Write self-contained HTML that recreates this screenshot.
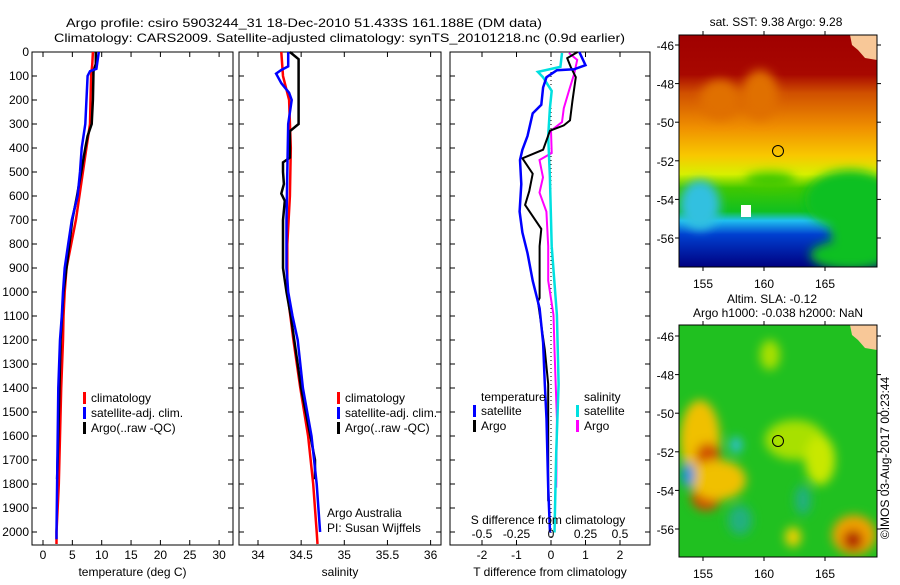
<!DOCTYPE html>
<html><head><meta charset="utf-8"><style>
body{margin:0;background:#fff;}
svg text{font-family:"Liberation Sans",sans-serif;font-size:12px;fill:#000;}
</style></head><body>
<svg id="chart" width="900" height="580" viewBox="0 0 900 580" xmlns="http://www.w3.org/2000/svg">
<defs>
<filter id="blur4" x="-20%" y="-20%" width="140%" height="140%"><feGaussianBlur stdDeviation="5"/></filter>
<clipPath id="clipMap1"><rect x="679" y="35" width="198" height="232"/></clipPath>
<clipPath id="clipMap2"><rect x="679" y="325" width="198" height="232"/></clipPath>
<linearGradient id="sstGrad" x1="0" y1="0" x2="0" y2="1">
<stop offset="0" stop-color="#a00000"/><stop offset="0.17" stop-color="#a80800"/>
<stop offset="0.25" stop-color="#d05000"/><stop offset="0.4" stop-color="#f09000"/>
<stop offset="0.52" stop-color="#f8c800"/><stop offset="0.6" stop-color="#d8f000"/>
<stop offset="0.66" stop-color="#40c800"/><stop offset="0.76" stop-color="#10c020"/>
<stop offset="0.8" stop-color="#20c0f0"/><stop offset="0.86" stop-color="#0040d0"/>
<stop offset="1" stop-color="#000080"/>
</linearGradient>
</defs>
<text x="66" y="27" textLength="476" lengthAdjust="spacingAndGlyphs" font-size="14">Argo profile: csiro 5903244_31 18-Dec-2010 51.433S 161.188E (DM data)</text>
<text x="54" y="42" textLength="571" lengthAdjust="spacingAndGlyphs" font-size="14">Climatology: CARS2009. Satellite-adjusted climatology: synTS_20101218.nc (0.9d earlier)</text>
<g id="plots"></g>
<!-- Map 1 SST -->
<g>
<g clip-path="url(#clipMap1)">
<rect x="679" y="35" width="198" height="232" fill="url(#sstGrad)"/>
<g filter="url(#blur4)">
<ellipse cx="850" cy="200" rx="45" ry="30" fill="#10c020"/>
<ellipse cx="860" cy="230" rx="30" ry="25" fill="#10c020"/>
<ellipse cx="700" cy="205" rx="20" ry="25" fill="#30c0e0"/>
<ellipse cx="760" cy="95" rx="18" ry="25" fill="#e07000"/>
<ellipse cx="720" cy="100" rx="20" ry="20" fill="#e07000"/>
<ellipse cx="770" cy="180" rx="25" ry="8" fill="#40c800"/>
<ellipse cx="850" cy="255" rx="40" ry="15" fill="#10c020"/>
</g>
<rect x="741" y="205" width="10" height="12" fill="#fff"/>
<path d="M850,35 L877,35 L877,60 L865,58 L858,50 L852,45 Z" fill="#f8c898"/>
</g>
<rect x="679" y="35" width="198" height="232" fill="none" stroke="#000" stroke-width="1"/>
<circle cx="778" cy="151" r="5.5" fill="none" stroke="#000"/>
</g>
<text x="776" y="26" text-anchor="middle">sat. SST: 9.38 Argo: 9.28</text>
<!-- Map 2 SLA -->
<g>
<g clip-path="url(#clipMap2)">
<rect x="679" y="325" width="198" height="232" fill="#20c020"/>
<g filter="url(#blur4)">
<ellipse cx="700" cy="440" rx="20" ry="40" fill="#f0c000"/>
<ellipse cx="708" cy="455" rx="12" ry="12" fill="#d05000"/>
<ellipse cx="706" cy="497" rx="15" ry="14" fill="#d05000"/>
<ellipse cx="718" cy="480" rx="28" ry="20" fill="#f0c000"/>
<ellipse cx="688" cy="475" rx="7" ry="12" fill="#2090e0"/>
<ellipse cx="854" cy="535" rx="22" ry="20" fill="#f0a000"/>
<ellipse cx="853" cy="540" rx="10" ry="10" fill="#b02000"/>
<ellipse cx="736" cy="445" rx="6" ry="8" fill="#30c0e0"/>
<ellipse cx="795" cy="440" rx="30" ry="20" fill="#a8e000"/>
<ellipse cx="820" cy="460" rx="15" ry="25" fill="#c8e800"/>
<ellipse cx="740" cy="520" rx="12" ry="15" fill="#20b080"/>
<ellipse cx="793" cy="537" rx="8" ry="10" fill="#f0d000"/>
<ellipse cx="803" cy="500" rx="8" ry="15" fill="#20b080"/>
<ellipse cx="770" cy="355" rx="10" ry="15" fill="#a8e000"/>
</g>
<path d="M850,325 L877,325 L877,350 L865,348 L858,340 L852,335 Z" fill="#f8c898"/>
</g>
<rect x="679" y="325" width="198" height="232" fill="none" stroke="#000" stroke-width="1"/>
<circle cx="778" cy="441" r="5.5" fill="none" stroke="#000"/>
</g>
<text x="772" y="303" text-anchor="middle">Altim. SLA: -0.12</text>
<text x="778" y="317" text-anchor="middle">Argo h1000: -0.038 h2000: NaN</text>
<text transform="translate(889,458) rotate(-90)" text-anchor="middle">©IMOS 03-Aug-2017 00:23:44</text>
</svg>
<script>
// ---- data ----
const depthTicks = [0,100,200,300,400,500,600,700,800,900,1000,1100,1200,1300,1400,1500,1600,1700,1800,1900,2000];
const tempTicks = [0,5,10,15,20,25,30];
const salTicks = [34,34.5,35,35.5,36];
const tdiffTicks = [-2,-1,0,1,2];
const sdiffTicks = [-0.5,-0.25,0,0.25,0.5];
const sdiffTickLabels = ["-0.5","-0.25","0","0.25","0.5"];

const tClimDepth = [0,50,100,200,300,400,500,600,700,800,900,1000,1100,1200,1400,1600,1800,2000,2050];
const tClim = [8.5,8.4,8.2,8.1,8.0,7.4,6.8,6.2,5.6,4.8,4.0,3.7,3.5,3.4,3.1,2.9,2.7,2.3,2.3];
const tSatDepth = [0,70,80,100,300,400,500,600,700,800,900,1000,1100,1200,1400,1600,1800,2000,2030];
const tSat = [9.5,9.1,8.0,7.6,7.2,6.6,6.3,5.9,4.9,4.3,3.7,3.4,3.2,2.9,2.6,2.5,2.4,2.3,2.3];
const tArgoDepth = [0,50,80,200,300,350,400,500,600,700,800,900,1000,1200,1400,1600,1780];
const tArgo = [9.0,9.0,8.6,8.5,8.3,7.6,7.2,6.5,5.8,5.0,4.5,4.0,3.5,3.0,2.8,2.6,2.4];

const sClimDepth = [0,100,200,400,600,800,1000,1200,1400,1600,1800,2000,2050];
const sClim = [34.27,34.29,34.36,34.38,34.37,34.34,34.34,34.41,34.49,34.58,34.64,34.68,34.69];
const sSatDepth = [0,60,75,90,130,170,200,300,500,700,900,1000,1100,1200,1400,1600,1800,2000];
const sSat = [34.35,34.35,34.27,34.21,34.27,34.36,34.39,34.35,34.34,34.33,34.33,34.35,34.40,34.46,34.52,34.62,34.68,34.72];
const sArgoDepth = [0,30,300,330,440,460,500,550,590,620,700,900,1000,1100,1400,1700,1780];
const sArgo = [34.37,34.47,34.47,34.37,34.37,34.29,34.29,34.30,34.27,34.31,34.29,34.29,34.33,34.38,34.50,34.66,34.66];

const dTSatDepth = [0,55,72,76,105,148,220,256,350,407,450,550,665,752,838,953,1068,1211,1384,1528,1815,2002];
const dTSat = [0.82,1.0,0.67,0.17,-0.13,-0.23,-0.28,-0.53,-0.68,-0.83,-0.9,-0.86,-0.91,-0.83,-0.68,-0.53,-0.33,-0.23,-0.18,-0.13,-0.08,-0.03];
const dTArgoDepth = [0,26,62,105,205,285,306,328,407,443,507,579,637,737,809,1025,1039,1240,1384,1872];
const dTArgo = [0.77,0.47,0.57,0.72,0.62,0.55,0.37,-0.03,-0.23,-0.83,-0.53,-0.63,-0.75,-0.28,-0.33,-0.33,-0.38,-0.18,-0.08,-0.08];
const dSSatDepth = [4,62,83,105,162,234,350,522,809,1096,1384,1671,2002];
const dSSat = [0.08,0.068,-0.095,-0.058,0.005,-0.008,-0.02,-0.008,0.005,0.043,0.055,0.038,0.025];
const dSArgoDepth = [4,33,91,162,234,292,328,421,450,522,586,665,809,953,1096,1240,1528,1815];
const dSArgo = [0.13,0.19,0.168,0.13,0.093,0.08,0,0.005,-0.083,-0.058,-0.083,-0.033,-0.02,-0.02,0.018,0.025,0.043,0.038];

const mapLonTicks = [155,160,165];
const mapLatTicks = [-46,-48,-50,-52,-54,-56];

// ---- drawing ----
const NS = "http://www.w3.org/2000/svg";
const svg = document.getElementById('chart');
const root = document.getElementById('plots');
const Y0 = 52, Y1 = 545;
const yD = d => Y0 + d * 0.24;
function mk(tag, attrs, parent) {
  const e = document.createElementNS(NS, tag);
  for (const k in attrs) e.setAttribute(k, attrs[k]);
  (parent || root).appendChild(e);
  return e;
}
function txt(s, x, y, anchor, parent) {
  const t = mk('text', {x: x, y: y, 'text-anchor': anchor || 'middle'}, parent);
  t.textContent = s;
  return t;
}
function line(x1,y1,x2,y2,parent,stroke){ return mk('line',{x1:x1,y1:y1,x2:x2,y2:y2,stroke:stroke||'#000','stroke-width':1},parent); }

function panel(name, x0, x1, xs, ticks, labels, title, depthLabels) {
  const g = mk('g', {});
  
  
  mk('rect', {x:x0, y:Y0, width:x1-x0, height:Y1-Y0, fill:'none', stroke:'#000', 'stroke-width':1}, g);
  ticks.forEach((v,i) => {
    const x = xs(v);
    line(x, Y0, x, Y0+5, g); line(x, Y1, x, Y1-5, g);
    const t = txt(labels[i], x, 559, 'middle', g);
    
    
  });
  depthTicks.forEach(d => {
    const y = yD(d);
    line(x0, y, x0+5, y, g); line(x1, y, x1-5, y, g);
    if (depthLabels) {
      const t = txt(String(d), 29, y+4, 'end', g);
      
      
    }
  });
  const tt = txt(title, (x0+x1)/2, 576, 'middle', g);
  
  
  return g;
}
function series(g, name, xs, vals, depths, color, w) {
  const pts = vals.map((v,i) => xs(v).toFixed(1) + ',' + yD(depths[i]).toFixed(1)).join(' ');
  const p = mk('polyline', {points: pts, fill:'none', stroke: color, 'stroke-width': w || 2.5, 'stroke-linejoin':'miter'}, g);
  
  
}
function legend(g, x, y, color, label) {
  const b = mk('rect', {x:x, y:y-10, width:3, height:12, fill:color}, g);
  
  
  const t = txt(label, x+8, y, 'start', g);
  
  
}

// Panel 1 temperature
const xT = v => 43 + v * 5.87;
const g1 = panel('temperature-panel', 32, 233, xT, tempTicks, tempTicks.map(String), 'temperature (deg C)', true);
series(g1, 'temp-climatology-line', xT, tClim, tClimDepth, '#ff0000');
series(g1, 'temp-argo-line', xT, tArgo, tArgoDepth, '#000000');
series(g1, 'temp-satellite-line', xT, tSat, tSatDepth, '#0000ff');
legend(g1, 83, 402, '#ff0000', 'climatology');
legend(g1, 83, 417, '#0000ff', 'satellite-adj. clim.');
legend(g1, 83, 432, '#000000', 'Argo(..raw -QC)');

// Panel 2 salinity
const xS = v => 258 + (v - 34) * 86.3;
const g2 = panel('salinity-panel', 239, 441, xS, salTicks, salTicks.map(String), 'salinity', false);
series(g2, 'sal-climatology-line', xS, sClim, sClimDepth, '#ff0000');
series(g2, 'sal-argo-line', xS, sArgo, sArgoDepth, '#000000');
series(g2, 'sal-satellite-line', xS, sSat, sSatDepth, '#0000ff');
legend(g2, 337, 402, '#ff0000', 'climatology');
legend(g2, 337, 417, '#0000ff', 'satellite-adj. clim.');
legend(g2, 337, 432, '#000000', 'Argo(..raw -QC)');
const a1 = txt('Argo Australia', 327, 517, 'start', g2);


const a2 = txt('PI: Susan Wijffels', 327, 532, 'start', g2);



// Panel 3 differences
const xDT = v => 551 + v * 34.5;
const xDS = v => 551 + v * 138;
const g3 = panel('difference-panel', 450, 650, xDT, tdiffTicks, tdiffTicks.map(String), 'T difference from climatology', false);
const zl = mk('line', {x1:xDT(0), y1:Y0, x2:xDT(0), y2:Y1, stroke:'#000', 'stroke-width':1, 'stroke-dasharray':'1,3'}, g3);


series(g3, 'sdiff-argo-line', xDS, dSArgo, dSArgoDepth, '#ff00ff', 2);
series(g3, 'sdiff-satellite-line', xDS, dSSat, dSSatDepth, '#00e0e0', 2.5);
series(g3, 'tdiff-argo-line', xDT, dTArgo, dTArgoDepth, '#000000', 2);
series(g3, 'tdiff-satellite-line', xDT, dTSat, dTSatDepth, '#0000ff', 2.5);
const lt = txt('temperature', 481, 401, 'start', g3);


const ls = txt('salinity', 584, 401, 'start', g3);


legend(g3, 473, 415, '#0000ff', 'satellite');
legend(g3, 473, 430, '#000000', 'Argo');
legend(g3, 576, 415, '#00e0e0', 'satellite');
legend(g3, 576, 430, '#ff00ff', 'Argo');
const st = txt('S difference from climatology', 548, 524, 'middle', g3);


sdiffTicks.forEach((v,i) => {
  const t = txt(sdiffTickLabels[i], xDS(v), 538, 'middle', g3);
  
  
});

// Map axes
const lonX = v => 703 + (v - 155) * 12.2;
function mapAxes(name, top, lat46) {
  const g = mk('g', {}, svg);
  
  
  const latY = v => lat46 + (-46 - v) * 19.3;
  mapLonTicks.forEach(v => {
    const x = lonX(v);
    line(x, top-4, x, top, g); line(x, top+232, x, top+236, g);
    const t = txt(String(v), x, top+253, 'middle', g);
    
    
  });
  mapLatTicks.forEach(v => {
    const y = latY(v);
    line(675, y, 679, y, g); line(877, y, 881, y, g);
    const t = txt(String(v), 674, y+5, 'end', g);
    
    
  });
}
mapAxes('sst-map-axes', 35, 45);
mapAxes('sla-map-axes', 325, 336);
</script>
</body></html>
